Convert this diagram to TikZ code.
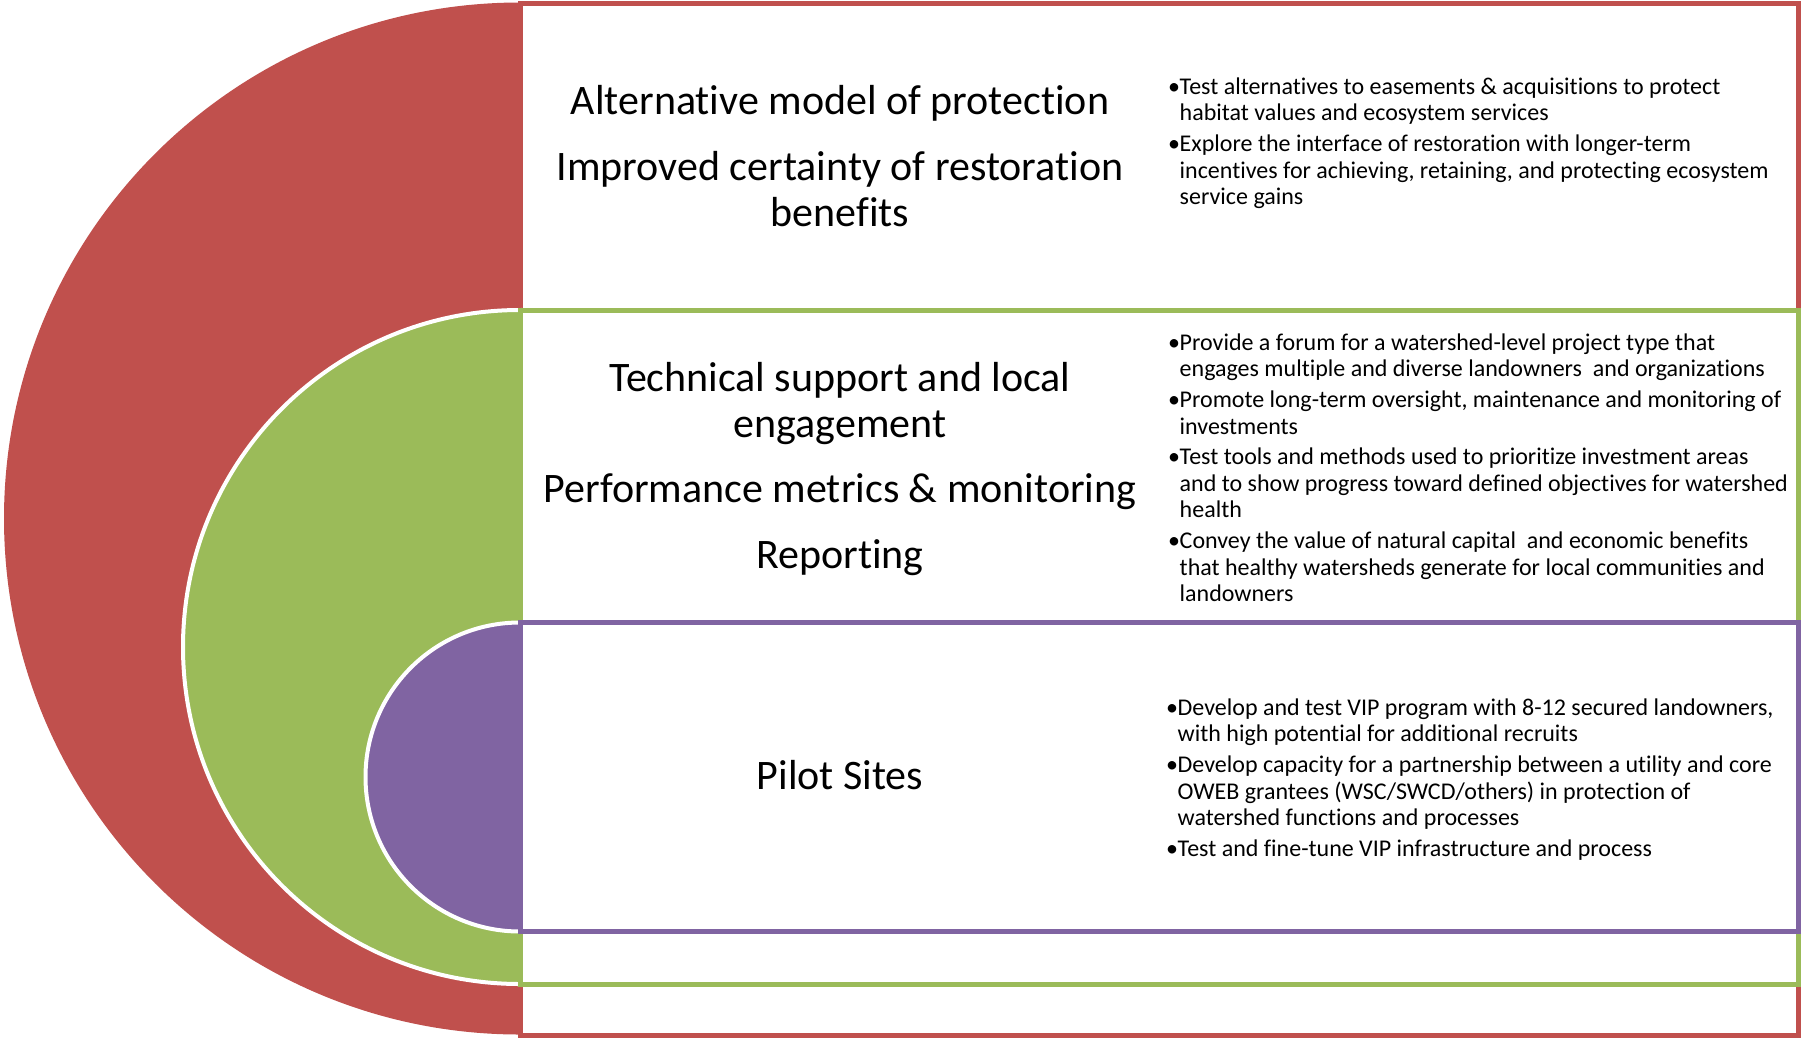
\documentclass[tikz,border=0pt]{standalone}
\usepackage{fontspec}
\setmainfont{Carlito}[Ligatures=NoCommon]
\definecolor{cred}{HTML}{C0504D}
\definecolor{cgreen}{HTML}{9BBB59}
\definecolor{cpurple}{HTML}{8064A2}
\newcommand{\bul}{\makebox[11.5pt][l]{•}}
\newcommand{\ind}{\hspace*{11.5pt}}
\begin{document}
\begin{tikzpicture}[x=1pt,y=-1pt,
  bigtxt/.style={font=\fontsize{42}{46}\selectfont, align=center, inner sep=0pt},
  listtxt/.style={font=\fontsize{24}{26.5}\selectfont, align=left, inner sep=0pt, anchor=north west},
  framebox/.style={line width=5pt, fill=white},
  halfdisc/.style={draw=white, line width=4pt}]
\useasboundingbox (0,0) rectangle (1801,1037);
% red level
\fill[cred] (520,2.5) arc[start angle=90,end angle=270,radius=516pt] -- cycle;
\draw[framebox, draw=cred] (520,3) rectangle (1798,1035);
% green level
\filldraw[halfdisc, fill=cgreen] (520,310) arc[start angle=90,end angle=270,radius=337pt] -- cycle;
\draw[framebox, draw=cgreen] (520,310) rectangle (1798,984);
% purple level
\filldraw[halfdisc, fill=cpurple] (520,622.5) arc[start angle=90,end angle=270,radius=154.5pt] -- cycle;
\draw[framebox, draw=cpurple] (520,622.5) rectangle (1798,931.5);
% centre texts
\node[bigtxt] (t1) at (840,103) {Alternative model of protection};
\node[bigtxt] (t2) at (840,189) {Improved certainty of restoration\\benefits};
\node[bigtxt] (t3) at (840,404) {Technical support and local\\engagement};
\node[bigtxt] (t4) at (840,492) {Performance metrics \& monitoring};
\node[bigtxt] (t5) at (840,557.5) {Reporting};
\node[bigtxt] (t6) at (840,775.5) {Pilot Sites};
% bullet lists
\node[listtxt] (l1) at (1168,77.5) {\bul Test alternatives to easements \& acquisitions to protect\\
\ind habitat values and ecosystem services\\[4.3pt]
\bul Explore the interface of restoration with longer-term\\
\ind incentives for achieving, retaining, and protecting ecosystem\\
\ind service gains};
\node[listtxt] (l2) at (1168,333.5) {\bul Provide a forum for a watershed-level project type that\\
\ind engages multiple and diverse landowners\ \ and organizations\\[4.3pt]
\bul Promote long-term oversight, maintenance and monitoring of\\
\ind investments\\[4.3pt]
\bul Test tools and methods used to prioritize investment areas\\
\ind and to show progress toward defined objectives for watershed\\
\ind health\\[4.3pt]
\bul Convey the value of natural capital\ \ and economic benefits\\
\ind that healthy watersheds generate for local communities and\\
\ind landowners};
\node[listtxt] (l3) at (1166,698.5) {\bul Develop and test VIP program with 8-12 secured landowners,\\
\ind with high potential for additional recruits\\[4.3pt]
\bul Develop capacity for a partnership between a utility and core\\
\ind OWEB grantees (WSC/SWCD/others) in protection of\\
\ind watershed functions and processes\\[4.3pt]
\bul Test and fine-tune VIP infrastructure and process};
\end{tikzpicture}
\end{document}
